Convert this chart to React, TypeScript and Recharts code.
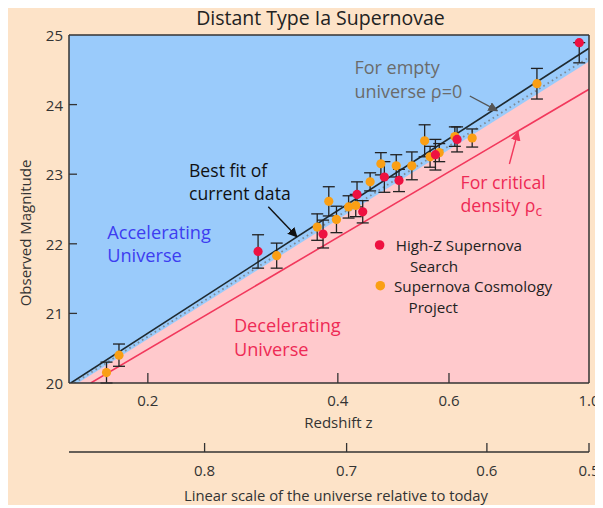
import React from 'react';
import {
  ComposedChart, XAxis, YAxis, Line, Area, Scatter, ErrorBar, CartesianGrid, ReferenceLine,
} from 'recharts';

// ---- data ----
const scpZ = [0.172, 0.180, 0.320, 0.371, 0.387, 0.398, 0.416, 0.427, 0.450, 0.468, 0.495, 0.524, 0.549, 0.560, 0.579, 0.613, 0.653, 0.827];
const scpMag = [20.15, 20.40, 21.83, 22.24, 22.61, 22.35, 22.53, 22.55, 22.89, 23.15, 23.12, 23.12, 23.48, 23.25, 23.31, 23.54, 23.52, 24.30];
const scpErr = [0.15, 0.16, 0.18, 0.19, 0.21, 0.19, 0.16, 0.16, 0.13, 0.16, 0.16, 0.20, 0.23, 0.15, 0.13, 0.14, 0.13, 0.22];

const hizZ = [0.299, 0.379, 0.429, 0.438, 0.474, 0.500, 0.571, 0.618, 0.965];
const hizMag = [21.89, 22.14, 22.71, 22.46, 22.96, 22.91, 23.28, 23.50, 24.89];
const hizErrLow = [0.24, 0.20, 0.18, 0.16, 0.22, 0.16, 0.22, 0.18, 0.29];
const hizErrHigh = [0.24, 0.20, 0.18, 0.16, 0.22, 0.16, 0.22, 0.18, 0.0];

const bestFitZ = [0.151, 1.0];
const bestFitMag = [20, 24.81];
const emptyZ = [0.153, 1.0];
const emptyMag = [20, 24.68];
const boundaryZ = [0.155, 1.0];
const boundaryMag = [20, 24.62];
const criticalZ = [0.1624, 1.0];
const criticalMag = [20, 24.22];

const zTicks = [0.2, 0.4, 0.6, 1.0];
const zTickLabels = ['0.2', '0.4', '0.6', '1.0'];
const linTickZ = [0.246, 0.413, 0.689, 1.0];
const linTickLabels = ['0.8', '0.7', '0.6', '0.5'];
const magTicks = [20, 21, 22, 23, 24, 25];

// ---- build series ----
const pts = (zs: number[], ms: number[]) => zs.map((z, i) => ({ z, m: ms[i] }));
const scp = scpZ.map((z, i) => ({ z, m: scpMag[i], err: [scpErr[i], scpErr[i]] }));
const hiz = hizZ.map((z, i) => ({ z, m: hizMag[i], err: [hizErrLow[i], hizErrHigh[i]] }));
const bestFit = pts(bestFitZ, bestFitMag);
const empty = pts(emptyZ, emptyMag);
const boundary = pts(boundaryZ, boundaryMag);
const critical = pts(criticalZ, criticalMag);

const FONT = '"Open Sans", "Noto Sans", sans-serif';
const AXIS = '#333';

const idxOf = (arr: number[], v: number) => arr.findIndex((a) => Math.abs(a - v) < 1e-6);

const ZTick = (props: any) => {
  const { x, y, payload } = props;
  const i = idxOf(zTicks, payload.value);
  return (
    <g>
      {payload.value < 0.99 && <line x1={x} x2={x} y1={y} y2={y - 10} stroke={AXIS} strokeWidth={1.3} />}
      <text x={x} y={y + 17} textAnchor="middle" dominantBaseline="central" fontSize={15} fill="#333" fontFamily={FONT}>
        {i >= 0 ? zTickLabels[i] : ''}
      </text>
    </g>
  );
};

const LinTick = (props: any) => {
  const { x, y, payload } = props;
  const i = idxOf(linTickZ, payload.value);
  return (
    <g>
      <line x1={x} x2={x} y1={y} y2={y - 9} stroke={AXIS} strokeWidth={1.3} />
      <text x={x} y={y + 18} textAnchor="middle" dominantBaseline="central" fontSize={15} fill="#333" fontFamily={FONT}>
        {i >= 0 ? linTickLabels[i] : ''}
      </text>
    </g>
  );
};

const MagTick = (props: any) => {
  const { x, y, payload } = props;
  const v = payload.value;
  return (
    <g>
      {v > 20 && v < 25 && <line x1={x} x2={x + 8} y1={y} y2={y} stroke={AXIS} strokeWidth={1.3} />}
      <text x={x - 6} y={y} textAnchor="end" dominantBaseline="central" fontSize={15} fill="#333" fontFamily={FONT}>
        {String(v)}
      </text>
    </g>
  );
};

const Dot = (color: string) => (props: any) => (
  <circle cx={props.cx} cy={props.cy} r={4.6} fill={color} />
);

export default function App() {
  return (
    <div style={{ position: 'relative', width: 595, height: 497, background: '#FDE3C8', fontFamily: FONT }}>
      <ComposedChart
        width={595}
        height={497}
        margin={{ top: 27, right: 14, left: 0, bottom: 3 }}
      >
        <CartesianGrid horizontal={false} vertical={false} fill="#9ACBFB" fillOpacity={1} />
        <XAxis
          xAxisId="a"
          dataKey="z"
          type="number"
          scale="log"
          domain={[0.15, 1.0]}
          allowDataOverflow
          ticks={zTicks}
          interval={0}
          tick={<ZTick />}
          tickLine={false}
          tickSize={0}
          tickMargin={0}
          axisLine={{ stroke: AXIS, strokeWidth: 1.5 }}
          height={69}
        />
        <XAxis
          xAxisId="b"
          dataKey="z"
          type="number"
          scale="log"
          domain={[0.15, 1.0]}
          allowDataOverflow
          ticks={linTickZ}
          interval={0}
          tick={<LinTick />}
          tickLine={false}
          tickSize={0}
          tickMargin={0}
          axisLine={{ stroke: AXIS, strokeWidth: 1.5 }}
          height={50}
        />
        <YAxis
          dataKey="m"
          type="number"
          domain={[20, 25]}
          allowDataOverflow
          ticks={magTicks}
          interval={0}
          tick={<MagTick />}
          tickLine={false}
          tickSize={0}
          tickMargin={0}
          axisLine={{ stroke: AXIS, strokeWidth: 1.5 }}
          width={61}
        />
        <Area
          xAxisId="a"
          data={boundary}
          dataKey="m"
          type="linear"
          stroke="none"
          fill="#FFC9CC"
          fillOpacity={1}
          isAnimationActive={false}
        />
        <Line xAxisId="b" data={bestFit} dataKey="m" stroke="none" dot={false} isAnimationActive={false} />
        <Line xAxisId="a" data={critical} dataKey="m" type="linear" stroke="#F2385C" strokeWidth={1.6} dot={false} isAnimationActive={false} />
        <Line xAxisId="a" data={empty} dataKey="m" type="linear" stroke="#7E8A95" strokeWidth={1.8} strokeDasharray="1.6 3.4" dot={false} isAnimationActive={false} />
        <Line xAxisId="a" data={bestFit} dataKey="m" type="linear" stroke="#1F2A30" strokeWidth={1.6} dot={false} isAnimationActive={false} />
        <ReferenceLine xAxisId="a" y={25} stroke={AXIS} strokeWidth={1.5} />
        <ReferenceLine xAxisId="a" x={1.0} stroke={AXIS} strokeWidth={1.5} />
        <Scatter xAxisId="a" data={scp} dataKey="m" shape={Dot('#FA9F14')} isAnimationActive={false}>
          <ErrorBar dataKey="err" direction="y" width={6} stroke="#222" strokeWidth={1.3} />
        </Scatter>
        <Scatter xAxisId="a" data={hiz} dataKey="m" shape={Dot('#EE1141')} isAnimationActive={false}>
          <ErrorBar dataKey="err" direction="y" width={6} stroke="#222" strokeWidth={1.3} />
        </Scatter>
      </ComposedChart>

      <svg
        width={595}
        height={497}
        style={{ position: 'absolute', left: 0, top: 0, pointerEvents: 'none', overflow: 'visible' }}
        fontFamily={FONT}
      >
        <defs>
          <marker id="ahGray" viewBox="0 0 10 10" refX="9" refY="5" markerWidth="7" markerHeight="7" orient="auto">
            <path d="M0,0 L10,5 L0,10 z" fill="#555" />
          </marker>
          <marker id="ahBlack" viewBox="0 0 10 10" refX="9" refY="5" markerWidth="7" markerHeight="7" orient="auto">
            <path d="M0,0 L10,5 L0,10 z" fill="#111" />
          </marker>
          <marker id="ahRed" viewBox="0 0 10 10" refX="9" refY="5" markerWidth="7" markerHeight="7" orient="auto">
            <path d="M0,0 L10,5 L0,10 z" fill="#F2385C" />
          </marker>
        </defs>

        <text x={312.5} y={16.5} textAnchor="middle" fontSize={19.5} fill="#222">
          Distant Type Ia Supernovae
        </text>
        <text x={17} y={225} textAnchor="middle" dominantBaseline="central" fontSize={15} fill="#333" transform="rotate(-90 17 225)">
          Observed Magnitude
        </text>
        <text x={330.4} y={414} textAnchor="middle" dominantBaseline="central" fontSize={15} fill="#333">
          Redshift  z
        </text>
        <text x={328} y={487} textAnchor="middle" dominantBaseline="central" fontSize={14.8} fill="#333">
          Linear scale of the universe relative to today
        </text>

        <text x={346.4} y={58.7} dominantBaseline="central" fontSize={18} fill="#6B6B6B">For empty</text>
        <text x={346.4} y={82.7} dominantBaseline="central" fontSize={18} fill="#6B6B6B">universe ρ=0</text>
        <line x1={461.8} y1={88} x2={489.3} y2={102.7} stroke="#555" strokeWidth={1.4} markerEnd="url(#ahGray)" />

        <text x={181} y={162} dominantBaseline="central" fontSize={17.6} fill="#111">Best fit of</text>
        <text x={181} y={185.3} dominantBaseline="central" fontSize={17.6} fill="#111">current data</text>
        <line x1={260.3} y1={198.7} x2={288.9} y2={228.7} stroke="#111" strokeWidth={1.4} markerEnd="url(#ahBlack)" />

        <text x={99.2} y={223.7} dominantBaseline="central" fontSize={18.2} fill="#3D3DF0">Accelerating</text>
        <text x={99.2} y={247} dominantBaseline="central" fontSize={18.2} fill="#3D3DF0">Universe</text>

        <text x={225.9} y={317} dominantBaseline="central" fontSize={18.2} fill="#EE2A55">Decelerating</text>
        <text x={225.9} y={341.3} dominantBaseline="central" fontSize={18.2} fill="#EE2A55">Universe</text>

        <text x={452.5} y={173.7} dominantBaseline="central" fontSize={17.7} fill="#EE2A55">For critical</text>
        <text x={452.5} y={197} dominantBaseline="central" fontSize={17.7} fill="#EE2A55">
          density  ρ<tspan dy={5} fontSize={14}>c</tspan>
        </text>
        <line x1={501.4} y1={156} x2={510} y2={123.7} stroke="#F2385C" strokeWidth={1.4} markerEnd="url(#ahRed)" />

        <circle cx={371.6} cy={237} r={4.8} fill="#EE1141" />
        <text x={387.7} y={237} dominantBaseline="central" fontSize={15.2} fill="#222">High-Z Supernova</text>
        <text x={402} y={257.5} dominantBaseline="central" fontSize={15.2} fill="#222">Search</text>
        <circle cx={372.3} cy={277.7} r={4.8} fill="#FA9F14" />
        <text x={386} y={278} dominantBaseline="central" fontSize={15.2} fill="#222">Supernova Cosmology</text>
        <text x={400.5} y={298.7} dominantBaseline="central" fontSize={15.2} fill="#222">Project</text>
      </svg>
    </div>
  );
}
